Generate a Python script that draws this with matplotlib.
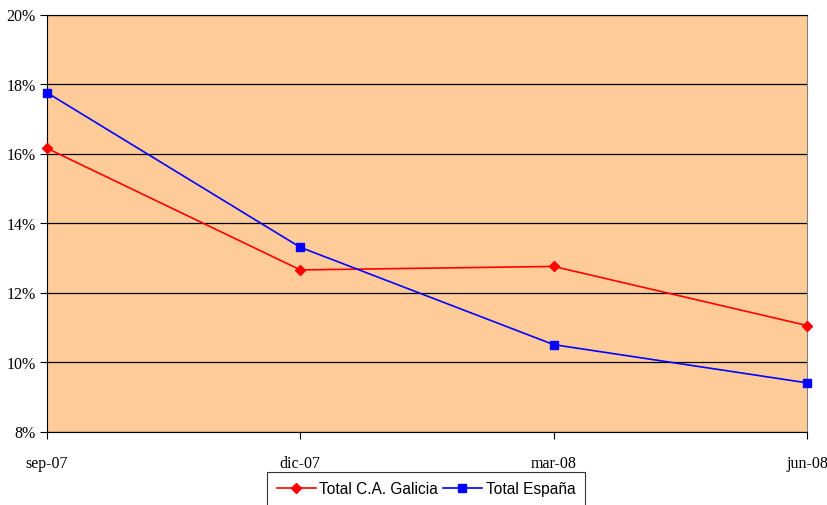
import matplotlib.pyplot as plt
from matplotlib.ticker import FuncFormatter

periods = ["sep-07", "dic-07", "mar-08", "jun-08"]
galicia = [16.15, 12.65, 12.75, 11.05]
espana = [17.75, 13.3, 10.5, 9.4]
yticks = [8, 10, 12, 14, 16, 18, 20]

fig = plt.figure(figsize=(8.28, 5.06), dpi=100)
ax = fig.add_axes([47 / 828, 73.5 / 506, 760 / 828, 417 / 506])
ax.set_facecolor("#FFCC99")

x = list(range(len(periods)))
ax.plot(x, galicia, color="#FF0000", lw=1.2, marker="D", ms=5.5,
        label="Total C.A. Galicia", clip_on=False, zorder=3)
ax.plot(x, espana, color="#0000FF", lw=1.2, marker="s", ms=6,
        label="Total España", clip_on=False, zorder=3)

ax.set_xlim(0, len(periods) - 1)
ax.set_ylim(8, 20)
ax.set_yticks(yticks)
ax.yaxis.set_major_formatter(FuncFormatter(lambda v, p: f"{v:.0f}%"))
ax.set_xticks(x)
ax.set_xticklabels(periods)
ax.grid(axis="y", color="black", lw=0.9)
ax.set_axisbelow(True)

for lab in ax.get_xticklabels() + ax.get_yticklabels():
    lab.set_fontfamily("Liberation Serif")
    lab.set_fontsize(11.5)
ax.tick_params(axis="x", length=5, pad=12, direction="out")
ax.tick_params(axis="y", length=5, pad=3, direction="out")

for side in ["left", "bottom", "top"]:
    ax.spines[side].set_color("black")
ax.spines["right"].set_color("#808080")

leg = fig.legend(loc="upper center", bbox_to_anchor=(426 / 828, 33 / 506),
                 ncol=2, frameon=True, fancybox=False, edgecolor="black",
                 prop={"family": "Liberation Sans", "size": 11.2},
                 handlelength=2.5, columnspacing=0.3, handletextpad=0.25,
                 borderpad=0.6, borderaxespad=0)
leg.get_frame().set_linewidth(0.8)

fig.savefig("out.png", dpi=100)
